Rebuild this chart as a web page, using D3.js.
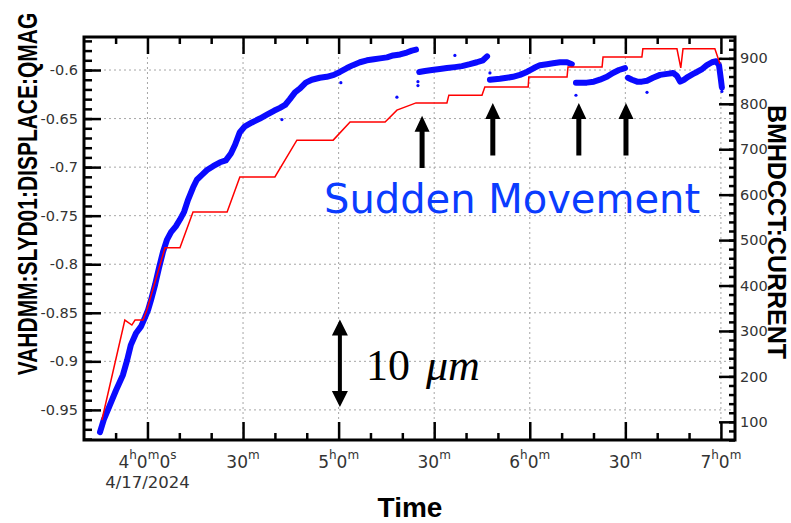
<!DOCTYPE html>
<html lang="en">
<head>
<meta charset="utf-8">
<title>Slide displacement and beam current</title>
<script src="https://cdn.jsdelivr.net/npm/d3@7/dist/d3.min.js"></script>
<style>
  body { margin: 0; background: #fff; }
</style>
</head>
<body>
<script>
// time is given in minutes after 04:00 on 4/17/2024
var blueMinutes = [
  -14.9,-13.7,-11.8,-9.9,-7.7,-6.4,-5.2,-3.6,-2.0,-0.8,
  0.2,1.1,2.4,3.6,4.9,6.1,7.4,8.9,10.2,11.5,
  12.7,14.3,15.5,17.1,18.7,20.6,22.8,24.6,26.2,27.5,
  29.0,30.6,32.8,35.3,37.5,39.7,41.6,43.2,44.7,46.3,
  47.9,49.7,51.6,54.1,56.3,58.5,60.4,62.6,64.5,66.7,
  68.9,71.1,73.0,75.2,77.1,79.3,81.4,83.0,84.3,
  84.8,
  85.3,87.1,89.3,91.8,94.0,96.5,98.7,101.2,103.4,105.3,106.6,
  107.0,
  107.5,110.6,112.8,114.7,116.9,119.1,121.3,123.2,125.4,127.3,129.5,131.7,133.2,
  134.0,
  134.5,136.4,137.9,140.1,142.0,144.2,146.1,148.0,149.9,
  150.4,
  150.8,152.1,153.7,155.2,156.8,158.7,160.9,163.1,165.0,166.2,
  167.2,168.4,169.7,171.3,172.5,174.1,175.6,177.2,178.5,179.4,180.0,180.3
];
var blueValues = [
  -0.973,-0.960,-0.945,-0.930,-0.914,-0.899,-0.883,-0.871,-0.864,-0.855,
  -0.847,-0.837,-0.821,-0.804,-0.787,-0.775,-0.767,-0.761,-0.754,-0.746,
  -0.734,-0.721,-0.713,-0.708,-0.703,-0.699,-0.695,-0.693,-0.686,-0.677,
  -0.664,-0.658,-0.654,-0.650,-0.646,-0.642,-0.639,-0.636,-0.630,-0.623,
  -0.619,-0.613,-0.610,-0.608,-0.607,-0.605,-0.602,-0.598,-0.595,-0.592,
  -0.590,-0.589,-0.588,-0.587,-0.585,-0.584,-0.582,-0.580,-0.579,
  null,
  -0.602,-0.601,-0.600,-0.599,-0.598,-0.597,-0.596,-0.594,-0.592,-0.590,-0.586,
  null,
  -0.610,-0.609,-0.608,-0.607,-0.605,-0.602,-0.598,-0.595,-0.594,-0.593,-0.592,-0.592,-0.594,
  null,
  -0.613,-0.613,-0.613,-0.612,-0.610,-0.607,-0.603,-0.600,-0.598,
  null,
  -0.608,-0.610,-0.612,-0.612,-0.611,-0.608,-0.605,-0.604,-0.603,-0.606,
  -0.612,-0.610,-0.607,-0.604,-0.602,-0.599,-0.595,-0.592,-0.591,-0.595,-0.610,-0.618
];
var blueDotMinutes = [42.2,60.7,78.3,84.9,84.9,96.5,107.5,119.4,134.5,156.8,180.3];
var blueDotValues  = [-0.651,-0.613,-0.628,-0.612,-0.616,-0.585,-0.603,-0.600,-0.626,-0.623,-0.622];

var redMinutes = [-14.3,-7.1,-4.9,-3.9,-1.4,-0.2,5.5,10.2,14.3,25.0,29.0,40.0,46.9,58.3,63.6,
  74.6,78.3,84.3,94.0,94.6,105.0,105.9,119.5,119.7,131.7,132.0,142.7,143.0,155.2,155.5,
  166.2,167.4,168.1,178.1,179.7];
var redValues = [104,324,313,324,324,346,483,483,562,562,639,639,720,720,760,
  760,786,802,802,819,819,837,837,859,859,881,881,903,903,921,
  921,879,921,921,888];

var leftTicks = [-0.95,-0.9,-0.85,-0.8,-0.75,-0.7,-0.65,-0.6];
var rightTicks = [100,200,300,400,500,600,700,800,900];

var arrowMinutes = [86.2,108.4,135.4,150.2];
var arrowTips = [-0.647,-0.634,-0.634,-0.634];
var arrowTails = [-0.701,-0.688,-0.688,-0.688];

var width = 791, height = 523;
var L = 84, R = 735, T = 37, B = 440;

var base = new Date(2024, 3, 17, 4, 0, 0);
function at(m) { return new Date(base.getTime() + m * 60000); }

var x = d3.scaleTime().domain([at(-19.92), at(184.42)]).range([L, R]);
var yL = d3.scaleLinear().domain([-0.981, -0.566]).range([B, T]);
var yR = d3.scaleLinear().domain([60, 947]).range([B, T]);

var svg = d3.select("body").append("svg")
  .attr("width", width).attr("height", height)
  .style("display", "block");

var xMajor = d3.timeMinute.every(30).range(x.domain()[0], x.domain()[1]);
var xMinor = d3.timeMinute.every(10).range(x.domain()[0], x.domain()[1])
  .filter(d => d.getMinutes() % 30 != 0);
var yLMinor = d3.range(-98, -56).map(k => k / 100);
var yRMinor = d3.range(60, 947, 20);

// grid
var grid = svg.append("g").attr("stroke", "#a6a6a6").attr("stroke-dasharray", "2,3").attr("stroke-width", 1);
grid.selectAll(".gh").data(leftTicks).enter().append("line")
  .attr("x1", L).attr("x2", R).attr("y1", d => yL(d)).attr("y2", d => yL(d));
grid.selectAll(".gv").data(xMajor).enter().append("line")
  .attr("y1", T).attr("y2", B).attr("x1", d => x(d)).attr("x2", d => x(d));

// blue displacement
var blue = blueMinutes.map((m, i) => ({ t: at(m), v: blueValues[i] }));
var blueLine = d3.line().defined(d => d.v != null).x(d => x(d.t)).y(d => yL(d.v));
svg.append("path").datum(blue)
  .attr("fill", "none").attr("stroke", "#0a0aff").attr("stroke-width", 6)
  .attr("stroke-linejoin", "round").attr("stroke-linecap", "round")
  .attr("d", blueLine);
svg.selectAll(".bdot").data(blueDotMinutes).enter().append("circle")
  .attr("cx", d => x(at(d))).attr("cy", (d, i) => yL(blueDotValues[i]))
  .attr("r", 1.6).attr("fill", "#0a0aff");

// red beam current
var red = redMinutes.map((m, i) => ({ t: at(m), v: redValues[i] }));
svg.append("path").datum(red)
  .attr("fill", "none").attr("stroke", "#ff0000").attr("stroke-width", 1.5)
  .attr("d", d3.line().x(d => x(d.t)).y(d => yR(d.v)));

// frame and ticks
function styleAxis(g) {
  g.select(".domain").remove();
  g.selectAll(".tick line").attr("stroke", "#000").attr("stroke-width", 2.5);
}
svg.append("g").attr("transform", "translate(0," + B + ")")
  .call(d3.axisBottom(x).tickValues(xMinor).tickSize(-7).tickFormat("")).call(styleAxis);
svg.append("g").attr("transform", "translate(0," + B + ")")
  .call(d3.axisBottom(x).tickValues(xMajor).tickSize(-18).tickFormat("")).call(styleAxis);
svg.append("g").attr("transform", "translate(0," + T + ")")
  .call(d3.axisTop(x).tickValues(xMinor).tickSize(-7).tickFormat("")).call(styleAxis);
svg.append("g").attr("transform", "translate(0," + T + ")")
  .call(d3.axisTop(x).tickValues(xMajor).tickSize(-17).tickFormat("")).call(styleAxis);

svg.append("g").attr("transform", "translate(" + L + ",0)")
  .call(d3.axisLeft(yL).tickValues(yLMinor).tickSize(-8).tickFormat("")).call(styleAxis);
var leftAxis = svg.append("g").attr("transform", "translate(" + L + ",0)")
  .call(d3.axisLeft(yL).tickValues(leftTicks).tickSize(-17).tickPadding(6).tickFormat(d => String(d)))
  .call(styleAxis);
svg.append("g").attr("transform", "translate(" + R + ",0)")
  .call(d3.axisRight(yR).tickValues(yRMinor).tickSize(-6).tickFormat("")).call(styleAxis);
var rightAxis = svg.append("g").attr("transform", "translate(" + R + ",0)")
  .call(d3.axisRight(yR).tickValues(rightTicks).tickSize(-16).tickPadding(5))
  .call(styleAxis);
[leftAxis, rightAxis].forEach(g => {
  g.attr("font-family", "DejaVu Sans").attr("font-size", 14.5);
  g.selectAll(".tick text").attr("fill", "#333");
});

svg.append("rect").attr("x", L).attr("y", T).attr("width", R - L).attr("height", B - T)
  .attr("fill", "none").attr("stroke", "#000").attr("stroke-width", 3);

// time labels with superscript units
var xl = svg.append("g").attr("font-family", "DejaVu Sans").attr("fill", "#333");
xMajor.forEach((d, i) => {
  var parts;
  if (d.getMinutes() == 30) parts = [["30", 0], ["m", 1]];
  else parts = [[String(d.getHours()), 0], ["h", 1], ["0", 0], ["m", 1]];
  if (i == 0) parts = parts.concat([["0", 0], ["s", 1]]);
  var t = xl.append("text").attr("x", x(d)).attr("y", 468).attr("text-anchor", "middle");
  parts.forEach((p, j) => {
    var prev = j > 0 ? parts[j - 1][1] : 0;
    t.append("tspan").text(p[0]).attr("font-size", p[1] ? 12 : 17)
      .attr("dy", p[1] && !prev ? -9 : (!p[1] && prev ? 9 : 0));
  });
});
xl.append("text").attr("x", x(xMajor[0])).attr("y", 488).attr("text-anchor", "middle")
  .attr("font-size", 16.5).text("4/17/2024");

// axis titles
svg.append("text").attr("x", 410).attr("y", 517).attr("text-anchor", "middle")
  .attr("font-family", "Liberation Sans").attr("font-weight", "bold").attr("font-size", 28)
  .text("Time");
// the left title is narrow and tall in the original, so stretch the glyph height
svg.append("text").attr("transform", "translate(37,194) rotate(-90) scale(1,1.33)").attr("text-anchor", "middle")
  .attr("font-family", "Liberation Sans").attr("font-weight", "bold").attr("font-size", 21)
  .text("VAHDMM:SLYD01:DISPLACE:QMAG");
svg.append("text").attr("transform", "translate(768,232) rotate(90)").attr("text-anchor", "middle")
  .attr("font-family", "Liberation Sans").attr("font-weight", "bold").attr("font-size", 25)
  .text("BMHDCCT:CURRENT");

// annotations
function upArrow(px, tip, tail, hw, hh, sw) {
  return "M" + px + "," + tip + "L" + (px + hw / 2) + "," + (tip + hh) + "L" + (px + sw / 2) + "," + (tip + hh) +
    "L" + (px + sw / 2) + "," + tail + "L" + (px - sw / 2) + "," + tail + "L" + (px - sw / 2) + "," + (tip + hh) +
    "L" + (px - hw / 2) + "," + (tip + hh) + "Z";
}
svg.selectAll(".arrow").data(arrowMinutes).enter().append("path")
  .attr("d", (d, i) => upArrow(x(at(d)), yL(arrowTips[i]), yL(arrowTails[i]), 15, 16, 5))
  .attr("fill", "#000");

svg.append("text").attr("x", 324).attr("y", 213)
  .attr("font-family", "DejaVu Sans").attr("font-size", 40).attr("fill", "#0a3cff")
  .text("Sudden Movement");

// 10 um scale bar
var sx = x(at(60.4)), sTop = yL(-0.857), sBot = yL(-0.947);
svg.append("path")
  .attr("d", "M" + sx + "," + sTop + "L" + (sx + 8) + "," + (sTop + 16) + "L" + (sx + 2) + "," + (sTop + 16) +
    "L" + (sx + 2) + "," + (sBot - 16) + "L" + (sx + 8) + "," + (sBot - 16) + "L" + sx + "," + sBot +
    "L" + (sx - 8) + "," + (sBot - 16) + "L" + (sx - 2) + "," + (sBot - 16) + "L" + (sx - 2) + "," + (sTop + 16) +
    "L" + (sx - 8) + "," + (sTop + 16) + "Z")
  .attr("fill", "#000");
var um = svg.append("text").attr("x", 366).attr("y", 380)
  .attr("font-family", "Liberation Serif").attr("font-size", 44).attr("fill", "#000");
um.append("tspan").text("10");
um.append("tspan").attr("dx", 16).attr("font-style", "italic").text("μm");
</script>
</body>
</html>
